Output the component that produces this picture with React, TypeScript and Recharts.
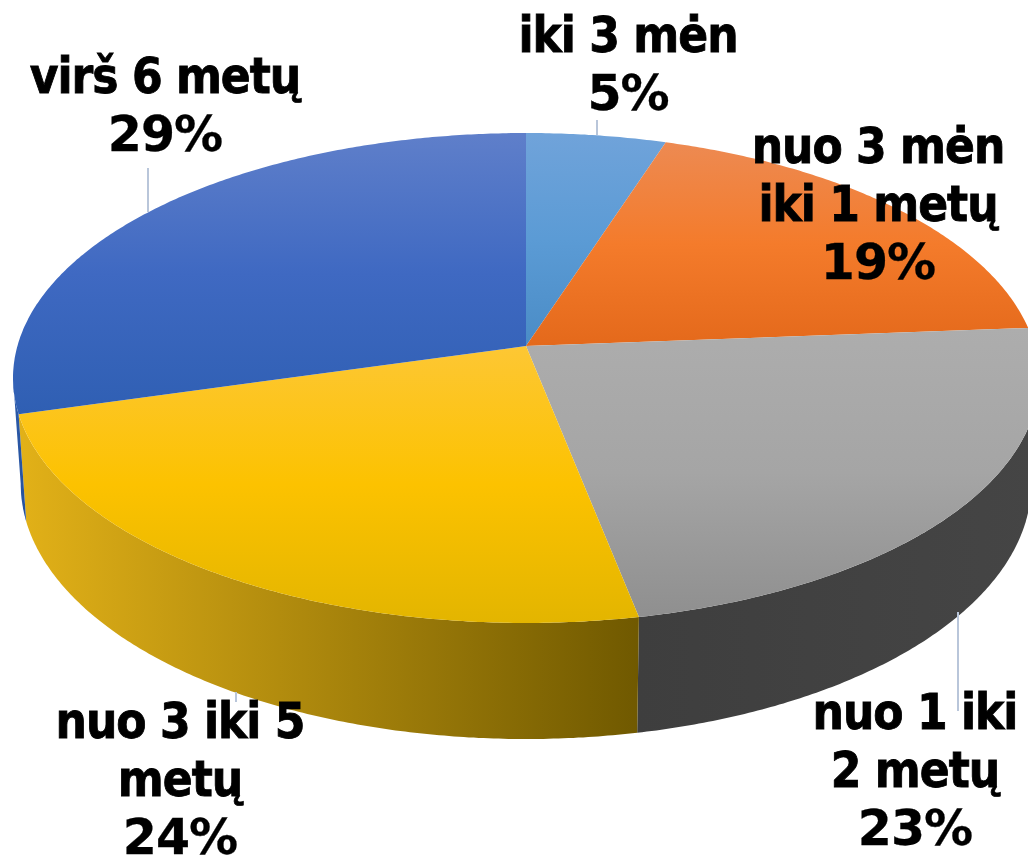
import { Pie, PieChart } from "recharts";

const categories = ["iki 3 mėn", "nuo 3 mėn iki 1 metų", "nuo 1 iki 2 metų", "nuo 3 iki 5 metų", "virš 6 metų"];
const shares = [5, 18.8, 23.1, 23.7, 29.4];
const labelRows = [["iki 3 mėn"], ["nuo 3 mėn", "iki 1 metų"], ["nuo 1 iki", "2 metų"], ["nuo 3 iki 5", "metų"], ["virš 6 metų"]];

// top face gradient: light, pure, shaded
const TOP_COLORS = [
  ["#70a3da", "#5b9bd5", "#4a8cc6"],
  ["#ed8a52", "#f47b2b", "#e4691b"],
  ["#adadad", "#a5a5a5", "#8f8f8f"],
  ["#fdc734", "#fcc200", "#e3b500"],
  ["#5f7fca", "#3f69c2", "#2f5fb3"],
];
const WALL_COLORS = [
  ["#3f75a8", "#3f75a8"],
  ["#a85218", "#a85218"],
  ["#3e3e3e", "#454545"],
  ["#e2b118", "#705900"],
  ["#2c5baa", "#25509c"],
];

// label block: centre x, first baseline, leader line
const LABEL_LAYOUT = [
  { x: 628, y: 52, line: [597, 120, 597, 135] },
  { x: 878, y: 163, line: null },
  { x: 915, y: 729, line: [958, 612, 958, 711] },
  { x: 180, y: 738, line: [236, 692, 236, 702] },
  { x: 165, y: 93, line: [148, 168, 148, 212] },
];
const LINE_HEIGHT = 58;

// perspective of the tilted disc
const TILT = 0.1306;
const SQUASH = 240.8 / 508.6;
const DEPTH = 104.5;
const BASE_SCALE = 0.985;
// the wall shows between the two silhouette points of the rim
const FRONT_START = 97.5;
const FRONT_END = 262.5;

const tableData = categories.map((name, i) => ({ name, value: shares[i] }));

function project(cx: number, cy: number, r: number, deg: number, lower = false) {
  const t = (deg * Math.PI) / 180;
  const u = Math.sin(t);
  const v = Math.cos(t);
  const w = 1 + TILT * v;
  const x = (r * u) / w;
  const y = (-r * SQUASH * v) / w;
  if (!lower) return [cx + x, cy + y];
  return [cx + x * BASE_SCALE, cy + y * BASE_SCALE + DEPTH / w];
}

function arcPoints(cx: number, cy: number, r: number, from: number, to: number, lower = false) {
  const pts: number[][] = [];
  const steps = Math.max(2, Math.ceil(to - from) * 2);
  for (let i = 0; i <= steps; i++) {
    pts.push(project(cx, cy, r, from + ((to - from) * i) / steps, lower));
  }
  return pts;
}

const toPath = (pts: number[][]) => pts.map((p, i) => `${i ? "L" : "M"}${p[0].toFixed(1)} ${p[1].toFixed(1)}`).join(" ");

function DiscSlice(props: any) {
  const { cx, cy, outerRadius, startAngle, endAngle, index } = props;
  const from = 90 - startAngle;
  const to = 90 - endAngle;
  const wallFrom = Math.max(from, FRONT_START);
  const wallTo = Math.min(to, FRONT_END);
  const top = `M${cx} ${cy} ${toPath(arcPoints(cx, cy, outerRadius, from, to)).replace("M", "L")} Z`;
  let wall = "";
  if (wallTo > wallFrom) {
    const upper = arcPoints(cx, cy, outerRadius, wallFrom, wallTo);
    const lower = arcPoints(cx, cy, outerRadius, wallFrom, wallTo, true).reverse();
    wall = `${toPath(upper)} ${toPath(lower).replace("M", "L")} Z`;
  }
  return (
    <g>
      <defs>
        <linearGradient id={`top-${index}`} x1="0" y1="0" x2="0" y2="1">
          <stop offset="0" stopColor={TOP_COLORS[index][0]} />
          <stop offset="0.5" stopColor={TOP_COLORS[index][1]} />
          <stop offset="1" stopColor={TOP_COLORS[index][2]} />
        </linearGradient>
        <linearGradient id={`wall-${index}`} x1="0" y1="0" x2="1" y2="0">
          <stop offset="0" stopColor={WALL_COLORS[index][0]} />
          <stop offset="1" stopColor={WALL_COLORS[index][1]} />
        </linearGradient>
      </defs>
      {wall && <path d={wall} fill={`url(#wall-${index})`} />}
      <path d={top} fill={`url(#top-${index})`} />
    </g>
  );
}

function SliceLabel(props: any) {
  const { index } = props;
  const layout = LABEL_LAYOUT[index];
  const rows = labelRows[index];
  return (
    <g>
      {layout.line && (
        <line x1={layout.line[0]} y1={layout.line[1]} x2={layout.line[2]} y2={layout.line[3]} stroke="#b9c6da" strokeWidth={2} />
      )}
      <text
        textAnchor="middle"
        fontFamily="'DejaVu Sans Condensed', 'DejaVu Sans'"
        fontWeight={700}
        fontSize={49}
        letterSpacing={-1}
        stroke="#000"
        strokeWidth={0.8}
        fill="#000"
      >
        {rows.map((row, i) => (
          <tspan key={row} x={layout.x} y={layout.y + i * LINE_HEIGHT}>
            {row}
          </tspan>
        ))}
        {/* the percent row is wider than the name rows */}
        <tspan x={layout.x} y={layout.y + rows.length * LINE_HEIGHT} fontFamily="'DejaVu Sans'" strokeWidth={0.3}>
          {`${Math.round(shares[index])}%`}
        </tspan>
      </text>
    </g>
  );
}

export default function App() {
  return (
    <div style={{ position: "absolute", left: 0, top: 0, width: 1028, height: 855, background: "#fff", overflow: "hidden" }}>
      <PieChart width={1028} height={855} margin={{ top: 0, right: 0, bottom: 0, left: 0 }}>
        <Pie
          data={tableData}
          dataKey="value"
          nameKey="name"
          cx={526}
          cy={346}
          innerRadius={0}
          outerRadius={508.6}
          startAngle={90}
          endAngle={-270}
          stroke="none"
          shape={DiscSlice}
          label={SliceLabel}
          labelLine={false}
          isAnimationActive={false}
        />
      </PieChart>
    </div>
  );
}
